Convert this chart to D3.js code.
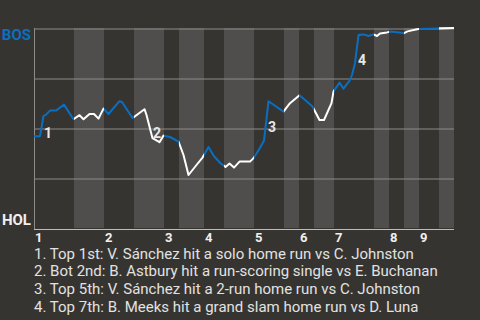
<!DOCTYPE html>
<html>
<head>
<meta charset="utf-8">
<script src="https://cdn.jsdelivr.net/npm/d3@7"></script>
<style>
  body { margin: 0; background: #363430; }
  svg { display: block; font-family: Roboto, sans-serif; }
</style>
</head>
<body>
<svg width="480" height="320"></svg>
<script>
// Plate appearances in each half inning, top 1st to bottom 9th
let halfInningPAs = [8, 6, 6, 6, 3, 5, 4, 6, 6, 3, 3, 4, 8, 3, 3, 3, 4, 3];
let inningLabels = ['1', '2', '3', '4', '5', '6', '7', '8', '9'];

// Win probability for BOS (%), by plate appearance count
let paIndex = [0, 1.2, 1.9, 2.4, 3.2, 4.4, 6.0, 7.9, 9.1, 9.9, 11.1, 12.0, 12.9, 13.9, 14.9, 17.1, 17.6, 19.7,
  22.1, 22.5, 23.7, 25.1, 25.9, 27.2, 28.9, 29.9, 30.9, 32.5, 33.7, 34.9, 36.0, 37.3, 38.3, 39.1, 40.0, 41.1,
  43.2, 44.0, 45.3, 46.0, 46.9, 49.9, 51.2, 53.1, 55.7, 57.1, 58.0, 59.5, 59.9, 61.1, 61.9, 63.2, 63.6, 64.2,
  64.9, 65.9, 66.9, 67.9, 68.6, 69.2, 70.6, 71.3, 73.0, 74.0, 74.7, 76.6, 77.2, 80.8, 84];
let bosWinPct = [45.9, 45.9, 56, 56.7, 58.7, 58.7, 61.7, 54.4, 56.4, 54.4, 57, 57, 54.7, 59.7, 57, 63.4, 63, 55,
  59.4, 56.5, 44.9, 42.9, 46.2, 45.5, 43.2, 36.5, 26.5, 31.5, 35.2, 40.5, 35.9, 32.4, 30.5, 32.2, 30.2, 33.2,
  33.2, 35.2, 40.5, 43.7, 63.4, 58.2, 62.4, 66.4, 60.7, 54, 54, 62.4, 68.2, 72.7, 69.7, 74, 76.5, 82.4,
  96.5, 96.8, 96, 96.8, 96, 97.3, 97.8, 98.2, 97.8, 97.4, 98.3, 99.4, 99.5, 99.8, 100];

// Key plays: label anchor (plate appearance, win %)
let eventLabels = ['1', '2', '3', '4'];
let eventPA = [2.0, 23.8, 46.8, 64.8];
let eventPct = [45, 45.2, 48, 81.7];
let eventTexts = [
  '1. Top 1st: V. Sánchez hit a solo home run vs C. Johnston',
  '2. Bot 2nd: B. Astbury hit a run-scoring single vs E. Buchanan',
  '3. Top 5th: V. Sánchez hit a 2-run home run vs C. Johnston',
  '4. Top 7th: B. Meeks hit a grand slam home run vs D. Luna'
];

let svg = d3.select('svg');
let totalPA = d3.sum(halfInningPAs);

let x = d3.scaleLinear().domain([0, totalPA]).range([34, 454]);
let y = d3.scaleLinear().domain([0, 100]).range([228, 28]);

// Half inning bands
let starts = d3.cumsum([0].concat(halfInningPAs)).slice(0, halfInningPAs.length);
let bands = halfInningPAs.map((n, i) => ({ start: starts[i], end: starts[i] + n, top: i % 2 === 0 }));

svg.append('g')
  .selectAll('rect')
  .data(bands)
  .enter().append('rect')
    .attr('x', d => x(d.start))
    .attr('y', y(100))
    .attr('width', d => x(d.end) - x(d.start))
    .attr('height', y(0) - y(100))
    .attr('fill', d => d.top ? '#363430' : '#4f4e4c');

// Grid lines
svg.append('g')
    .attr('transform', 'translate(' + x(0) + ',0)')
    .call(d3.axisLeft(y).tickValues([25, 50, 75, 100]).tickSize(-(x(totalPA) - x(0))).tickFormat(''))
    .call(g => g.select('.domain').remove())
    .call(g => g.selectAll('line').attr('stroke', '#8c8b89').attr('transform', 'translate(0,0.5)'));

// Axis lines
svg.append('line')
    .attr('x1', x(0) + 0.5).attr('x2', x(0) + 0.5)
    .attr('y1', y(100)).attr('y2', y(0) + 1)
    .attr('stroke', '#8c8b89');
svg.append('line')
    .attr('x1', x(0)).attr('x2', x(totalPA))
    .attr('y1', y(0) + 1.5).attr('y2', y(0) + 1.5)
    .attr('stroke', '#bdbcba');

// Clip paths, one per half inning
let defs = svg.append('defs');
bands.forEach((b, i) => {
  defs.append('clipPath').attr('id', 'clip' + i)
    .append('rect')
      .attr('x', x(b.start))
      .attr('y', 0)
      .attr('width', x(b.end) - x(b.start))
      .attr('height', 320);
});

let points = paIndex.map((p, i) => [p, bosWinPct[i]]);
let line = d3.line().x(d => x(d[0])).y(d => y(d[1]));

svg.append('g')
  .selectAll('path')
  .data(bands)
  .enter().append('path')
    .attr('d', line(points))
    .attr('clip-path', (d, i) => 'url(#clip' + i + ')')
    .attr('fill', 'none')
    .attr('stroke', d => d.top ? '#0b6fc1' : '#ffffff')
    .attr('stroke-width', 2)
    .attr('stroke-linejoin', 'round');

// Event numbers on the line
svg.append('g')
  .selectAll('text')
  .data(eventLabels)
  .enter().append('text')
    .attr('x', (d, i) => x(eventPA[i]))
    .attr('y', (d, i) => y(eventPct[i]))
    .attr('fill', '#e8e8e8')
    .attr('font-size', '14px')
    .attr('font-weight', 'bold')
    .text(d => d);

// Team labels
svg.append('text')
    .attr('x', 31).attr('y', 39.5)
    .attr('text-anchor', 'end')
    .attr('fill', '#0b6fc1')
    .attr('font-size', '15px')
    .attr('font-weight', 'bold')
    .text('BOS');
svg.append('text')
    .attr('x', 31).attr('y', 225)
    .attr('text-anchor', 'end')
    .attr('fill', '#f0f0f0')
    .attr('font-size', '15px')
    .attr('font-weight', 'bold')
    .text('HOL');

// Inning labels
svg.append('g')
  .selectAll('text')
  .data(inningLabels)
  .enter().append('text')
    .attr('x', (d, i) => x(starts[i * 2]) + 1)
    .attr('y', 242)
    .attr('fill', '#f0f0f0')
    .attr('font-size', '13px')
    .attr('font-weight', 'bold')
    .text(d => d);

// Key play descriptions
svg.append('g')
  .selectAll('text')
  .data(eventTexts)
  .enter().append('text')
    .attr('x', 34)
    .attr('y', (d, i) => 258.5 + i * 17.8)
    .attr('fill', '#e2e2e2')
    .attr('font-size', '15px')
    .text(d => d);
</script>
</body>
</html>
